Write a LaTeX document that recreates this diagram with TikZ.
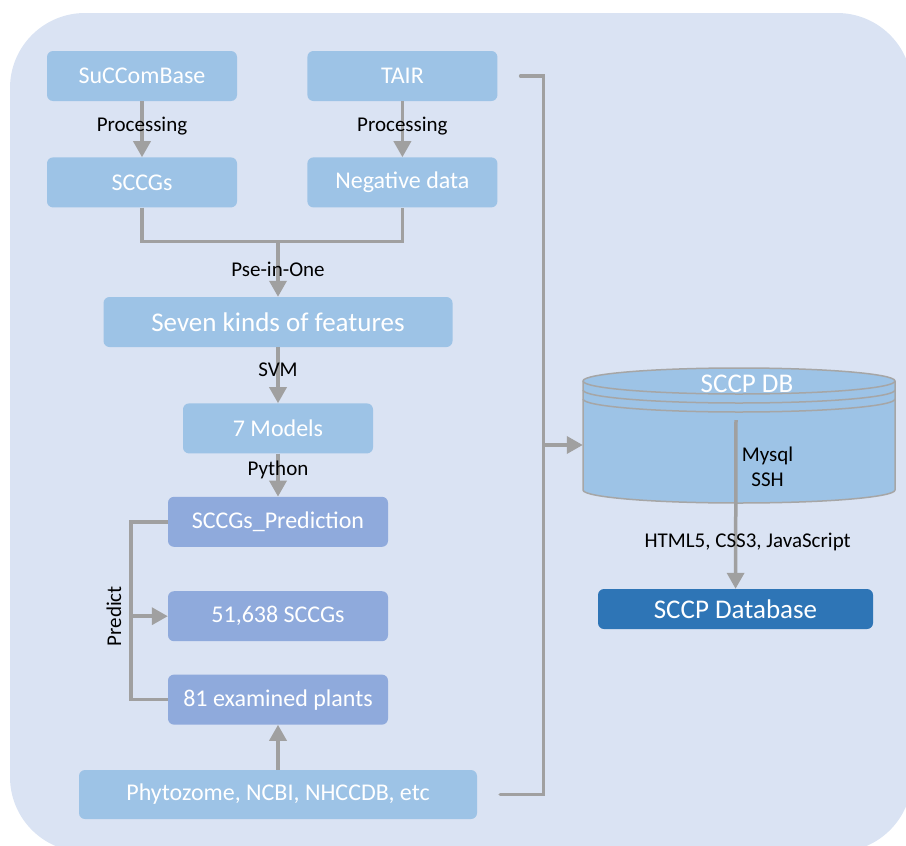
\documentclass[tikz,border=0pt]{standalone}
\usepackage{fontspec}
\setmainfont{Carlito}
\usepackage{xcolor}
\usetikzlibrary{positioning,arrows.meta}

\definecolor{panel}{HTML}{DAE3F3}
\definecolor{stepblue}{HTML}{9DC3E6}
\definecolor{predblue}{HTML}{8FAADC}
\definecolor{dbdark}{HTML}{2E75B6}
\definecolor{linegray}{HTML}{A0A0A0}
\definecolor{dbedge}{HTML}{A6A6A6}

\begin{document}
\begin{tikzpicture}[x=1pt, y=-1pt,
    stage/.style={rectangle, rounded corners=6pt, fill=stepblue, text=white, minimum width=190pt, minimum height=50pt, font=\fontsize{24}{28}\selectfont},
    bigstage/.style={stage, font=\fontsize{27}{31}\selectfont},
    predstage/.style={stage, fill=predblue, minimum width=220pt},
    rel/.style={font=\fontsize{21}{25}\selectfont, text=black},
    wire/.style={draw=linegray, line width=3.5pt},
    flow/.style={wire, -{Triangle[length=16pt, width=17pt]}},
    every node/.style={align=center}
]
\useasboundingbox (0,0) rectangle (906,846);
\fill[panel, rounded corners=75pt] (10,13) rectangle (912,852);

% Training side
\node[stage] (succ) at (142,76) {SuCComBase};
\node[stage] (tair) [right=70pt of succ] {TAIR};
\node[stage] (sccgs) [below=56pt of succ] {SCCGs};
\node[stage] (neg) [below=56pt of tair] {Negative data};
\node[bigstage, minimum width=349pt] (feat) at (278,322) {Seven kinds of features};
\node[stage] (models) [below=56pt of feat] {7 Models};

% Prediction side
\node[predstage] (pred) [below=43pt of models] {SCCGs\_Prediction};
\node[predstage] (total) [below=44pt of pred] {51,638 SCCGs};
\node[predstage] (plants) [below=33pt of total] {81 examined plants};
\node[stage, minimum width=398pt, minimum height=49pt] (sources) [below=45pt of plants] {Phytozome, NCBI, NHCCDB, etc};

% Database cylinder
\node[minimum width=312pt, minimum height=135pt] (db) at (739,435.5) {};
\filldraw[fill=stepblue, draw=dbedge, line width=1.5pt] (583,381) -- (583,490)
    arc[start angle=180, end angle=360, x radius=156pt, y radius=13pt] -- (895,381)
    arc[start angle=0, end angle=180, x radius=156pt, y radius=13pt] -- cycle;
\foreach \ring in {381,390,399}
    \draw[dbedge, line width=1.5pt] (583,\ring) arc[start angle=180, end angle=360, x radius=156pt, y radius=13pt];
\node[text=white, font=\fontsize{27}{31}\selectfont] (dbname) at (747,384) {SCCP DB};
\node[bigstage, fill=dbdark, minimum width=275pt, minimum height=40pt] (web) at (735.5,609) {SCCP Database};

\coordinate (merge) at (278,241);
\coordinate (fork) at ([xshift=-37pt]total.west);
\coordinate (tap) at (543,445);
\coordinate (dbout) at (736,420);

% Connectors
\draw[flow] (succ) -- node[rel, pos=0.45] {Processing} (sccgs);
\draw[flow] (tair) -- node[rel, pos=0.45] {Processing} (neg);
\draw[wire] (sccgs.south) -- ++(0,34) -| (neg.south);
\draw[flow] (merge) -- node[rel] {Pse-in-One} (feat);
\draw[flow] (feat) -- node[rel, pos=0.4] {SVM} (models);
\draw[flow] (models) -- node[rel, pos=0.37] {Python} (pred);
\draw[wire] (pred.west) -- ++(-37,0) |- (plants.west);
\draw[flow] (fork) -- (total);
\node[rel, rotate=90] (predict) at ([xshift=-17pt]fork) {Predict};
\draw[flow] (sources) -- (plants);
\draw[wire, line cap=round] ([xshift=23pt]tair.east) -- ++(23,0) |- ([xshift=23pt]sources.east);
\draw[flow] (tap) -- (tap -| db.west);
\draw[flow] (dbout) -- node[rel, right=1pt, pos=0.28] {Mysql\\SSH}
    node[rel, xshift=12pt, pos=0.72] {HTML5, CSS3, JavaScript} (web);

\end{tikzpicture}
\end{document}
